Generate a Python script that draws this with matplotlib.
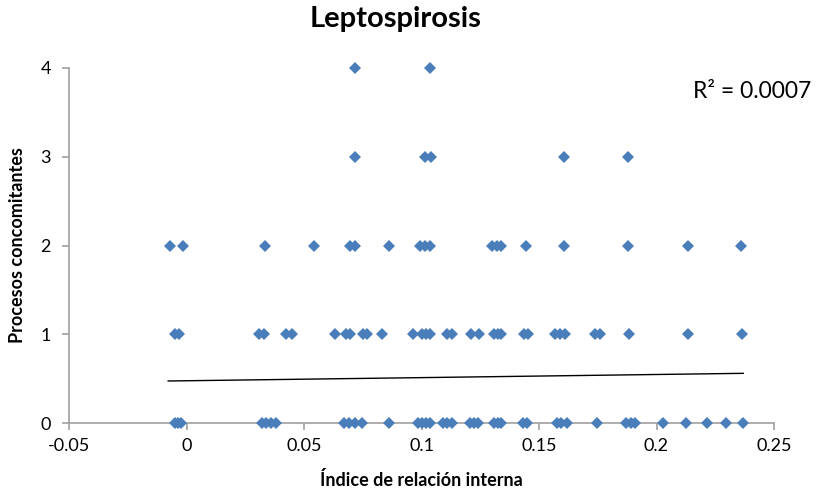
import numpy as np
import matplotlib.pyplot as plt

plt.rcParams['font.family'] = ['Lato', 'DejaVu Sans']

# indice de relacion interna, grouped by number of concomitant processes
x_0 = [-0.005, -0.0037, -0.0024, 0.032, 0.034, 0.036, 0.038, 0.067, 0.069, 0.0716,
       0.0745, 0.0862, 0.0985, 0.1003, 0.102, 0.1036, 0.109, 0.111, 0.113, 0.1206,
       0.1225, 0.124, 0.131, 0.1325, 0.134, 0.143, 0.145, 0.1577, 0.1595, 0.162,
       0.1746, 0.187, 0.189, 0.191, 0.2026, 0.2125, 0.2214, 0.2297, 0.2366]
x_1 = [-0.005, -0.003, 0.031, 0.033, 0.0425, 0.0447, 0.063, 0.068, 0.0695, 0.075,
       0.077, 0.083, 0.0963, 0.1, 0.102, 0.1035, 0.111, 0.113, 0.1212, 0.1245,
       0.131, 0.1327, 0.134, 0.1435, 0.1452, 0.157, 0.159, 0.161, 0.1737, 0.176,
       0.1883, 0.2134, 0.2364]
x_2 = [-0.0071, -0.0014, 0.0333, 0.0543, 0.0695, 0.0716, 0.0862, 0.0993, 0.1014,
       0.1036, 0.1298, 0.132, 0.134, 0.1443, 0.1607, 0.1879, 0.2134, 0.2359]
x_3 = [0.0716, 0.1014, 0.1042, 0.1607, 0.1879]
x_4 = [0.0716, 0.1038]
groups = [x_0, x_1, x_2, x_3, x_4]

# linear trend line (Excel)
trend_slope = 0.353
trend_intercept = 0.476
trend_x = [-0.0078, 0.2369]
r2_label = 'R² = 0.0007'

xs = np.concatenate([np.array(g) for g in groups])
ys = np.concatenate([np.full(len(g), i) for i, g in enumerate(groups)])

fig = plt.figure(figsize=(8.17, 5), dpi=100)
ax = fig.add_axes([69/817, 1 - 423/500, 705/817, 355/500])

ax.plot(xs, ys, linestyle='none', marker='D', markersize=6.6,
        color='#4a7ebb', markeredgewidth=0, zorder=3, clip_on=False)
tx = np.array(trend_x)
ax.plot(tx, trend_intercept + trend_slope * tx, color='black', lw=1.0, zorder=2)

ax.set_xlim(-0.05, 0.25)
ax.set_ylim(0, 4)
ax.set_xticks([-0.05, 0, 0.05, 0.1, 0.15, 0.2, 0.25])
ax.set_xticklabels(['-0.05', '0', '0.05', '0.1', '0.15', '0.2', '0.25'])
ax.set_yticks([0, 1, 2, 3, 4])

for s in ['top', 'right']:
    ax.spines[s].set_visible(False)
for s in ['left', 'bottom']:
    ax.spines[s].set_color('#a0a0a0')
    ax.spines[s].set_linewidth(1.2)
ax.tick_params(axis='both', colors='#a0a0a0', labelcolor='black', labelsize=13,
               length=5, width=1.2)
ax.tick_params(axis='x', pad=6)
ax.tick_params(axis='y', pad=8)

ax.set_xlabel('Índice de relación interna', fontsize=13, fontweight='bold', labelpad=12)
fig.text(18/817, 1 - 245/500, 'Procesos concomitantes', rotation=90,
         ha='center', va='center', fontsize=13, fontweight='bold')
fig.text(396/817, 0.962, 'Leptospirosis', ha='center', va='center',
         fontsize=21, fontweight='bold')
fig.text(693/817, 1 - 92/500, r2_label, ha='left', va='center', fontsize=16.5)

fig.savefig('out.png', dpi=100)
